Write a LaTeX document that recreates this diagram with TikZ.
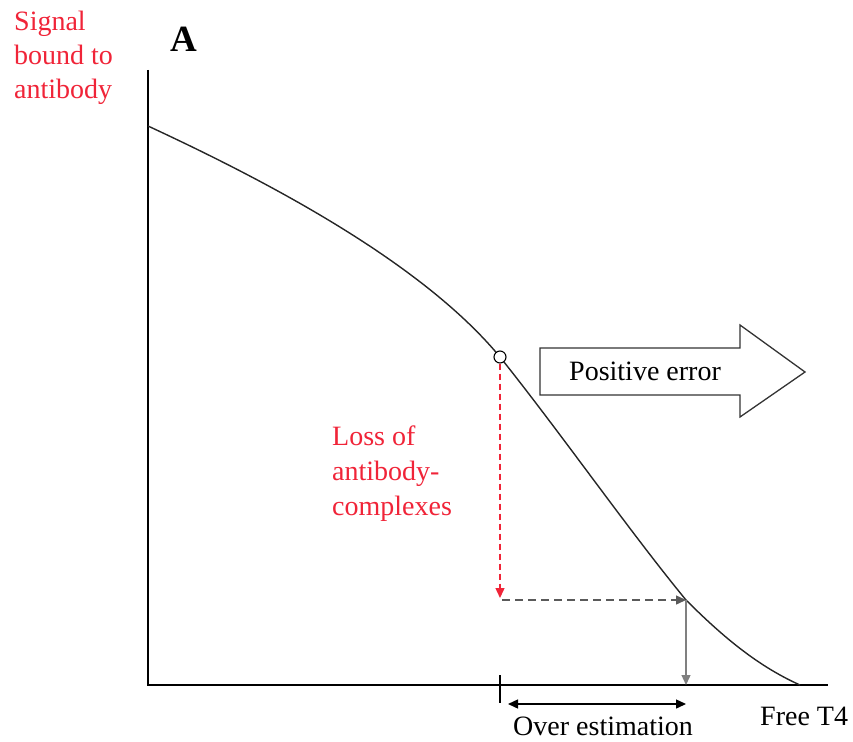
\documentclass[tikz,border=0pt]{standalone}
\usepackage{fontspec}
\setmainfont{Liberation Serif}
\usetikzlibrary{arrows.meta}
\definecolor{redlbl}{RGB}{240,36,56}
\definecolor{dgray}{RGB}{90,90,90}
\begin{document}
\begin{tikzpicture}[x=1pt,y=-1pt,
  lbl/.style={inner sep=0pt,anchor=base west,font=\fontsize{28}{34}\selectfont},
  redtxt/.style={lbl,text=redlbl},
  axis/.style={line width=1.5pt,black},
  arrtip/.style={-{Triangle[length=10pt,width=9pt]}},
  dblarr/.style={{Triangle[length=10pt,width=9pt]}-{Triangle[length=10pt,width=9pt]}}]
\useasboundingbox (0,0) rectangle (853,741);
% axes
\coordinate (ytop) at (148,70);
\coordinate (orig) at (148,685);
\coordinate (xend) at (828,685);
\draw[axis] (ytop) -- (orig) -- (xend);
% curve
\coordinate (c0) at (148,126);
\coordinate (circ) at (500,357);
\coordinate (meet) at (686,600);
\coordinate (cend) at (800,685);
\draw[line width=1.4pt,black!85] (c0) .. controls (260,178) and (420,260) .. (circ)
  .. controls (560,432) and (630,532) .. (meet)
  .. controls (726,640) and (760,667) .. (cend);
% marker
\node[circle,draw,fill=white,line width=1.1pt,inner sep=0pt,minimum size=12pt] (mk) at (circ) {};
% red dashed arrow
\coordinate (redend) at (500,598);
\draw[redlbl,line width=1.4pt,dash pattern=on 6pt off 4pt,arrtip] (mk.south) -- (redend);
% gray dashed horizontal
\coordinate (hstart) at (502,600);
\draw[dgray,line width=1.4pt,dash pattern=on 8pt off 5pt,arrtip] (hstart) -- (meet);
% vertical arrow
\coordinate (vfoot) at (686,685);
\draw[gray,line width=1.3pt,arrtip] (meet) -- (vfoot);
% tick
\coordinate (tk1) at (500,675);
\coordinate (tk2) at (500,703);
\draw[line width=1.5pt] (tk1) -- (tk2);
% over estimation arrow
\coordinate (oa) at (508,704);
\coordinate (ob) at (686,704);
\draw[line width=1.4pt,dblarr] (oa) -- (ob);
% big arrow
\draw[line width=1.3pt,draw=black!80] (540,348) -- (740,348) -- (740,325) -- (805,372)
  -- (740,417) -- (740,395) -- (540,395) -- cycle;
% texts
\node[lbl] (pe) at (569,380) {Positive error};
\node[lbl] (oe) at (513,735) {Over estimation};
\node[lbl] (ft) at (760,725) {Free T4};
\node[inner sep=0pt,anchor=base west,font=\fontsize{37}{40}\selectfont\bfseries] (A) at (170,52) {A};
\node[redtxt] (s1) at (14,31) {Signal};
\node[redtxt] (s2) at (14,65) {bound to};
\node[redtxt] (s3) at (14,99) {antibody};
\node[redtxt] (l1) at (332,445) {Loss of};
\node[redtxt] (l2) at (332,480) {antibody-};
\node[redtxt] (l3) at (332,515) {complexes};
\end{tikzpicture}
\end{document}
